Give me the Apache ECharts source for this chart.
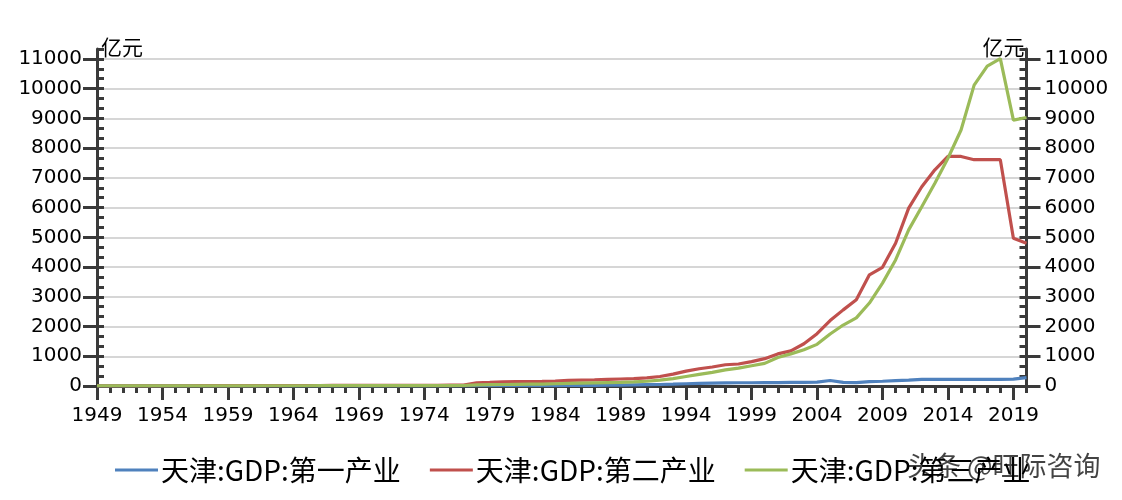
<!DOCTYPE html>
<html><head><meta charset="utf-8">
<script src="https://cdn.jsdelivr.net/npm/echarts@6/dist/echarts.min.js"></script>
<style>html,body{margin:0;padding:0;background:#fff}#c{width:1122px;height:500px}</style>
</head><body><div id="c"></div>
<script>
const years = ['1949','1950','1951','1952','1953','1954','1955','1956','1957','1958','1959','1960','1961','1962','1963','1964','1965','1966','1967','1968','1969','1970','1971','1972','1973','1974','1975','1976','1977','1978','1979','1980','1981','1982','1983','1984','1985','1986','1987','1988','1989','1990','1991','1992','1993','1994','1995','1996','1997','1998','1999','2000','2001','2002','2003','2004','2005','2006','2007','2008','2009','2010','2011','2012','2013','2014','2015','2016','2017','2018','2019','2020'];
const seriesNames = ['天津:GDP:第一产业','天津:GDP:第二产业','天津:GDP:第三产业'];
const primary = [1,1,1,1,1,1,1,2,2,2,2,2,2,2,2,2,2,3,3,3,3,3,3,3,4,4,4,4,4,
  8,9,10,10,11,12,14,16,18,20,
  25,30,40,45,50,60,75,90,100,105,
  110,110,115,115,120,125,130,185,120,115,
  150,160,180,195,225,225,225,225,225,225,
  225,230,280];
const secondary = [2,3,4,5,6,7,8,9,10,11,12,13,13,14,15,16,17,17,18,19,20,21,22,23,24,25,26,27,28,
  110,120,140,145,150,155,165,190,200,205,
  220,235,250,275,320,400,500,580,640,715,
  740,820,920,1080,1180,1420,1760,2200,2560,2900,
  3740,3990,4800,5980,6700,7270,7720,7720,7610,7610,
  7610,4970,4800];
const tertiary = [2,2,3,3,4,4,5,5,6,6,7,7,7,8,8,9,9,10,10,11,11,12,12,13,13,14,14,15,16,
  40,45,50,55,60,65,75,85,95,105,
  115,125,140,160,195,250,320,390,460,540,
  600,680,760,960,1080,1220,1400,1750,2050,2290,
  2790,3460,4240,5250,6030,6820,7660,8610,10120,10760,
  11010,8940,9030];
const yTicks = [0,1000,2000,3000,4000,5000,6000,7000,8000,9000,10000,11000];
const unitName = '亿元';
const watermark = '头条 @旺际咨询';

const colors = ['#4F81BD','#C0504D','#9BBB59'];
const axisColor = '#3a3a3a';
const yMax = 11000 + 1000/3;
const numFont = 'DejaVu Sans';
const cjkFont = 'Noto Sans CJK SC';

function majorY(pos, margin, align, pad) {
  return {
    type:'value', position:pos, min:0, max:yMax, interval:1000,
    name: unitName, nameLocation:'end', nameGap:2,
    nameTextStyle:{fontFamily:cjkFont, fontSize:21, color:'#000', align:align, verticalAlign:'middle', padding:pad},
    axisLine:{show:true, onZero:false, lineStyle:{color:axisColor, width:3}},
    axisTick:{show:true, inside:false, length:14, lineStyle:{color:axisColor, width:3}, customValues:yTicks},
    axisLabel:{show:true, margin:margin, fontFamily:numFont, fontSize:20, color:'#000', customValues:yTicks,
      formatter:function(v){ return String(Math.round(v)); }},
    splitLine:{show: pos==='left', lineStyle:{color:'#C8C8C8', width:1.6}}
  };
}
function minorY(pos) {
  return {
    type:'value', position:pos, min:0, max:yMax, interval:1000/3,
    axisLine:{show:false, onZero:false},
    axisTick:{show:true, inside:true, length:7, lineStyle:{color:axisColor, width:3}},
    axisLabel:{show:false}, splitLine:{show:false}
  };
}

const chart = echarts.init(document.getElementById('c'), null, {renderer:'canvas'});
chart.setOption({
  animation:false,
  backgroundColor:'#fff',
  grid:{left:97, right:95.5, top:49, bottom:114, containLabel:false, outerBoundsMode:'none'},
  xAxis:[
    {type:'category', data:years, boundaryGap:false, position:'bottom',
     axisLine:{show:true, onZero:false, lineStyle:{color:axisColor, width:3}},
     axisTick:{show:true, interval:0, length:7, lineStyle:{color:axisColor, width:3}},
     axisLabel:{show:false}, splitLine:{show:false}},
    {type:'category', data:years, boundaryGap:false, position:'bottom',
     axisLine:{show:false, onZero:false},
     axisTick:{show:true, interval:4, length:14, lineStyle:{color:axisColor, width:3}},
     axisLabel:{show:true, interval:4, margin:20, fontFamily:numFont, fontSize:20, color:'#000'},
     splitLine:{show:false}}
  ],
  yAxis:[ majorY('left', 15, 'left', [0,0,0,4]), minorY('left'), majorY('right', 18, 'right', [0,2,0,0]), minorY('right') ],
  legend:{
    left:110, top:451, icon:'rect', itemWidth:43, itemHeight:3, itemGap:29,
    textStyle:{fontFamily:cjkFont, fontSize:28, color:'#000', padding:[0,0,0,-2]},
    data:seriesNames
  },
  graphic:[{type:'text', left:907, top:452, silent:true,
    style:{text:watermark, font:'27px "Noto Sans CJK SC"', fill:'rgba(20,20,20,0.8)'}}],
  series:[primary, secondary, tertiary].map((d,i)=>({
    name:seriesNames[i], type:'line', data:d, xAxisIndex:0, yAxisIndex:0,
    symbol:'none', showSymbol:false,
    lineStyle:{width:3.2, color:colors[i]}, itemStyle:{color:colors[i]}
  }))
});
</script></body></html>
